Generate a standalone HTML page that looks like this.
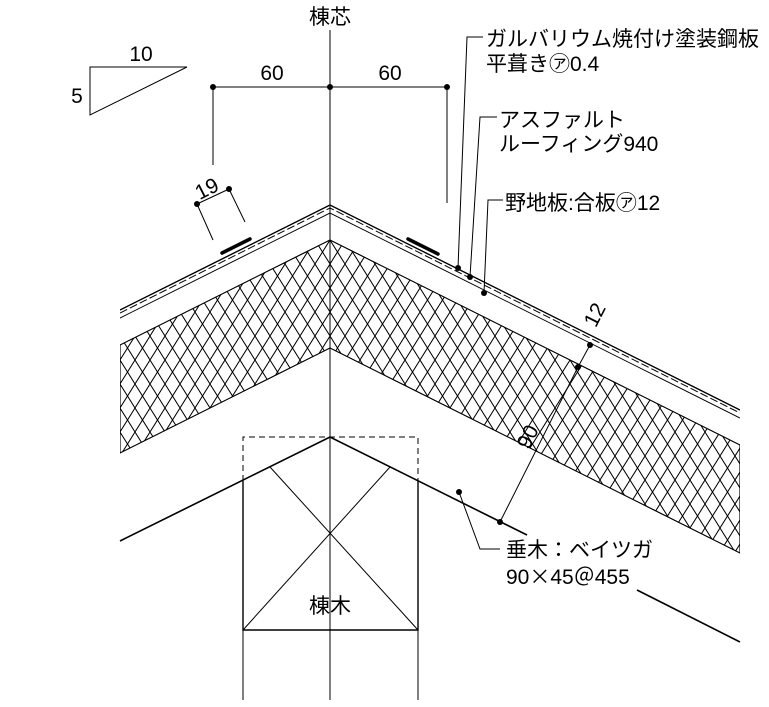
<!DOCTYPE html>
<html><head><meta charset="utf-8"><style>
html,body{margin:0;padding:0;background:#fff}
svg{display:block}
text{font-family:"Liberation Sans","Noto Sans CJK JP",sans-serif;fill:#000}
.j{font-family:"Noto Sans CJK JP",sans-serif}
</style></head><body>
<svg width="769" height="707" viewBox="0 0 769 707" xmlns="http://www.w3.org/2000/svg">
<defs>
<pattern id="h" width="15" height="24" patternUnits="userSpaceOnUse">
<path d="M0 0L15 24M15 0L0 24" stroke="#000" stroke-width="1" fill="none"/>
</pattern>
<clipPath id="c"><rect x="120" y="0" width="620" height="707"/></clipPath>
</defs>
<g stroke="#000" fill="none">
<path d="M90 67H187L90 115Z" stroke-width="1"/>
<path d="M330 30V700" stroke-width="1"/>
<path d="M213 87H447M213 87V165M447 87V203" stroke-width="1"/>
<path d="M197 204L229 189M197 204L213 240M229 189L245 222" stroke-width="1"/>
<g clip-path="url(#c)">
<path d="M330 240L740 445L740 553L330 348L120 453L120 345Z" fill="url(#h)" stroke-width="1.2"/>
<path d="M120 310L330 205L740 410" stroke-width="1.4"/>
<path d="M120 313L330 208L740 413" stroke-width="1" stroke-dasharray="8 3"/>
<path d="M120 318L330 213L740 418" stroke-width="1"/>
</g>
<path d="M222 253L250 239M408 239L438 254" stroke-width="3.5" stroke-linecap="round"/>
<path d="M243 481V437H418V481" stroke-width="1" stroke-dasharray="6 4"/>
<path d="M243 481V630H418V481" stroke-width="1.4"/>
<path d="M243 630V700M418 630V700" stroke-width="1"/>
<path d="M243 630L390 467M418 630L270 467" stroke-width="1"/>
<path d="M120 541L330 437L527 535M637 590L740 642" stroke-width="1.6"/>
<path d="M590 345L578 367L500 522" stroke-width="1"/>
<path d="M458 268L467 37H483M470 277L480 117H497M484 293L488 200H503M459 492L480 549H500" stroke-width="1"/>
</g>
<g fill="#000">
<circle cx="213" cy="87" r="3"/><circle cx="330" cy="87" r="3"/><circle cx="447" cy="87" r="3"/>
<circle cx="197" cy="204" r="3"/><circle cx="229" cy="189" r="3"/>
<circle cx="458" cy="268" r="3"/><circle cx="470" cy="277" r="3"/><circle cx="484" cy="293" r="3"/>
<circle cx="590" cy="345" r="3"/><circle cx="578" cy="367" r="3"/><circle cx="500" cy="522" r="3"/><circle cx="459" cy="492" r="3"/>
</g>
<g font-size="21">
<text x="330" y="24" text-anchor="middle">棟芯</text>
<text x="141" y="61" text-anchor="middle">10</text>
<text x="77" y="103" text-anchor="middle">5</text>
<text x="272" y="80" text-anchor="middle">60</text>
<text x="390" y="80" text-anchor="middle">60</text>
<text transform="translate(210,195) rotate(-27)" text-anchor="middle">19</text>
<text transform="translate(601,318) rotate(-63)" text-anchor="middle">12</text>
<text transform="translate(534,440) rotate(-63)" text-anchor="middle">90</text>
<text x="486" y="46">ガルバリウム焼付け塗装鋼板</text>
<text x="486" y="71">平葺き㋐0.4</text>
<text x="499" y="127">アスファルト</text>
<text x="499" y="151">ルーフィング940</text>
<text x="505" y="210">野地板:合板㋐12</text>
<text x="506" y="557">垂木：ベイツガ</text>
<text x="506" y="584">90<tspan class="j">×</tspan>45<tspan class="j">＠</tspan>455</text>
<text x="330" y="613" text-anchor="middle">棟木</text>
</g>
</svg>
</body></html>
